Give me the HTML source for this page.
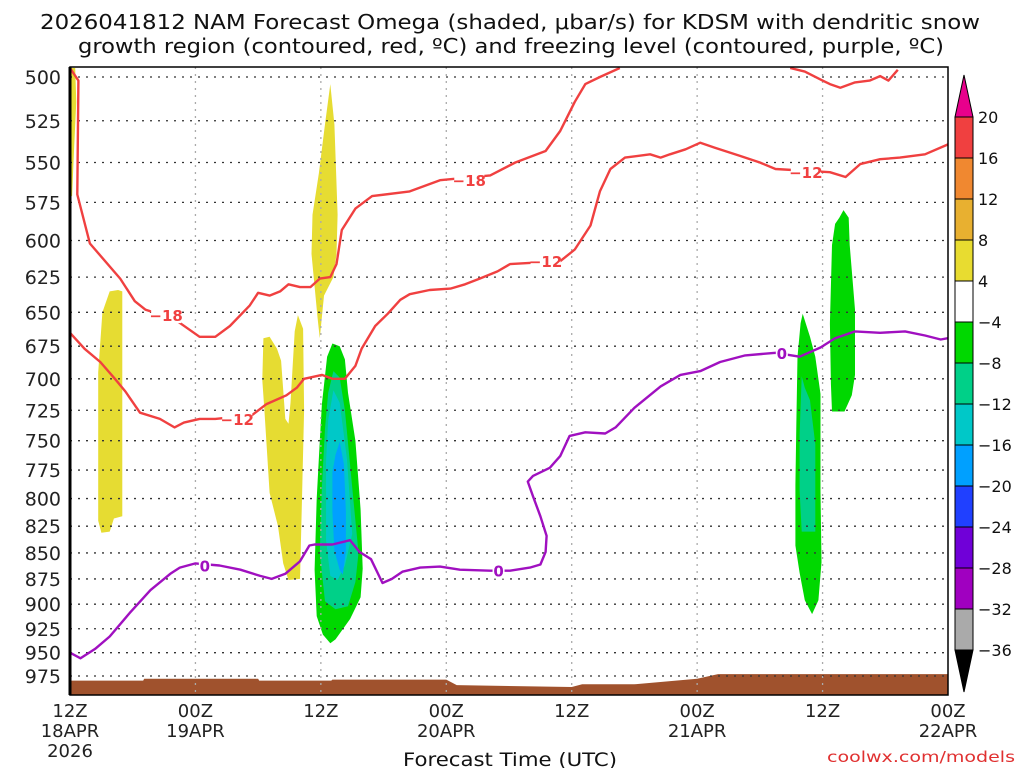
<!DOCTYPE html>
<html><head><meta charset="utf-8">
<style>
body{margin:0;background:#fff;}
svg text{font-family:"DejaVu Sans","Liberation Sans",sans-serif;}
</style></head>
<body>
<svg id="chart" width="1024" height="768" xmlns="http://www.w3.org/2000/svg">
<rect width="1024" height="768" fill="#fff"/>
<text x="40" y="29" textLength="940" lengthAdjust="spacingAndGlyphs" font-size="20" fill="#111">2026041812 NAM Forecast Omega (shaded, μbar/s) for KDSM with dendritic snow</text>
<text x="78" y="53" textLength="866" lengthAdjust="spacingAndGlyphs" font-size="20" fill="#111">growth region (contoured, red, ºC) and freezing level (contoured, purple, ºC)</text>
<g id="shade"></g><g id="terrain"></g><g id="grid"></g><g id="contours"></g><g id="axes"></g><g id="cbar"></g>
<text x="403" y="766" textLength="214" lengthAdjust="spacingAndGlyphs" font-size="19" fill="#111">Forecast Time (UTC)</text>
<text x="827" y="762" textLength="188" lengthAdjust="spacingAndGlyphs" font-size="15" fill="#e03030">coolwx.com/models</text>
</svg>
<script>
const pressTicks=[500,525,550,575,600,625,650,675,700,725,750,775,800,825,850,875,900,925,950,975];
const timeTicks=[0,12,24,36,48,60,72,84];
const timeLabels=[["12Z","18APR","2026"],["00Z","19APR"],["12Z"],["00Z","20APR"],["12Z"],["00Z","21APR"],["12Z"],["00Z","22APR"]];
const cbarLevels=[20,16,12,8,4,-4,-8,-12,-16,-20,-24,-28,-32,-36];
const cbarColors=["#f04040","#f08830","#e8b030","#e8dc30","#ffffff","#00d800","#00d088","#00c8c8","#00a0ff","#2040ff","#7000d8","#a000c0","#aaaaaa"];
const c18aH=[0,0.8,0.7,1.9,4.8,6.2,7.2,10,12.4,13.9,15.3,17.2,18,19.1,20.1,20.9,22,23,23.9,24.9,25.5,26,27.3,28.9,32.5,35.4,40.2,42.6,45.5,46.9,48.3,49.3,50.7,52.6];
const c18aP=[495,502,570,602,626,642,648,655,668,668,660,645,636,638,635,630,632,632,626,625,616,593,579,571,568,561,558,550,543,531,514,504,500,495];
const c18bH=[68.9,70.3,72,72.7,73.7,75.1,76.5,77.5,78.3,79.2];
const c18bP=[495,497,502,504,506,503,502,499.5,502,496];
const c12H=[0,1.4,2.9,4.3,5.3,6.7,8.6,10,10.9,12.4,13.9,17.4,18.8,20.7,21.7,22.4,24.1,25.1,26.3,27.3,27.9,29.2,30.4,31.6,32.5,34.4,36.4,37.8,39.2,40.9,42.1,46.9,48.3,49.8,50.7,51.7,53.1,55.5,56.5,57.4,58.9,60.3,61.7,64.1,66,67.5,72.7,74.2,75.6,77.5,79.4,81.8,84];
const c12P=[665,677,687,700,710,727,732,739,735,732,732,729,720,713,707,700,697,700,700,690,677,660,651,641,637,634,633,630,626,621,616,614,606,590,568,554,547,545,547,545,542,538,541,546,550,554,556,559,551,548,547,545,539];
const c0H=[0,1,2.4,3.8,5.7,7.7,9.6,10.5,12,14.3,16.3,18.2,19.3,20.6,22,22.9,23.4,25.1,26.8,27.7,28.8,29.9,30.8,31.8,33.5,35.4,37.3,40.2,42.1,44,45,45.5,45.6,45,44.3,43.8,44.3,45.9,46.9,47.8,49.3,51.2,52.2,54,56.5,58.4,60.3,62.2,64.6,67.5,69.8,71.8,73.2,75.1,77.5,79.9,81.8,83.3,84];
const c0P=[950,956,946,933,909,886,870,864,860,862,866,872,875,870,858,843,842,842,838,849,856,879,875,868,864,863,866,867,867,864,861,849,834,816,798,785,780,773,763,746,743,744,739,723,706,697,694,687,682,680,683,676,669,664,665,664,667,670,669];
const sfcH=[0,7,7.1,18,18.1,25,25.1,36,37,48,49,54,60,62,84];
const sfcP=[980,980,978,978,980,980,979,979,985,987,984,984,978,973,973];
const shades=[
 ["yellow",[0,0.5,0.6,0.4,0.2,0],[495,495,514,540,571,571]],
 ["yellow",[3.8,4.6,5,5,4.2,3.8,3,2.7,2.7,3.1],[635,634,635,816,818,830,831,820,695,650]],
 ["yellow",[24.9,25.3,25.6,25.5,25.2,24.3,23.9,23.7,23.1,23.2,23.8,24.4],[504,527,583,609,625,638,669,655,609,583,557,527]],
 ["yellow",[18.5,19.1,19.8,20.2,20.6,20.9,21.1,21.5,21.8,22.3,22.4,22.2,22,20.9,20.4,19.9,19.1,18.6,18.4],[669,668,677,686,732,736,719,664,652,662,725,800,875,876,860,825,795,725,701]],
 ["g4",[25.1,25.8,26.3,26.6,27.3,27.8,28,27.8,26.8,25.4,24.9,24.2,23.6,23.4,23.6,23.9,24.1,24.6],[673,675,685,711,750,810,865,893,915,936,940,931,912,866,800,750,720,683]],
 ["g8",[25.2,25.8,26.3,27,27.6,27.3,26.6,25.4,24.4,23.9,24.1,24.4,24.7],[694,699,725,790,850,878,902,905,897,850,790,740,711]],
 ["g12",[25.2,25.8,26.5,27,26.3,25.6,24.9,24.5,24.5,24.7],[709,719,766,832,862,876,872,838,767,733]],
 ["g16",[25.8,26.2,26.4,26.4,26.1,25.8,25.3,25.1,25.1,25.4],[751,770,812,848,871,866,848,812,777,762]],
 ["g4",[70.1,70.8,71.3,71.8,71.8,71.9,71.6,71,70.3,69.8,69.4,69.4,69.5,69.6,69.9],[651,668,683,712,793,859,896,910,896,869,843,788,733,683,658]],
 ["g8",[70,70.3,70.8,71.3,71.3,70.8,70,69.8,69.8],[698,707,717,753,830,830,830,793,745]],
 ["g4",[74,74.5,74.6,75.1,75.1,74.8,74.1,72.9,72.8,72.7,72.9,73.2,73.6],[580,585,603,648,697,713,726,726,704,658,603,589,585]]
];
const shadeColor={yellow:"#e6dc32",g4:"#00d800",g8:"#00d088",g12:"#00c8c8",g16:"#00a0ff"};
const X0=70,X1=948,Y0=77,Y1=676,PT=67,PB=695;
const xs=h=>X0+h*(X1-X0)/84;
const ys=p=>Y0+Math.log(p/500)/Math.log(975/500)*(Y1-Y0);
const NS="http://www.w3.org/2000/svg";
function mk(tag,attrs,parent){const e=document.createElementNS(NS,tag);for(const k in attrs)e.setAttribute(k,attrs[k]);parent.appendChild(e);return e;}
function pts(H,P){return H.map((h,i)=>xs(h).toFixed(1)+","+Math.max(PT,ys(P[i])).toFixed(1)).join(" ");}
const g=id=>document.getElementById(id);
const defs=mk("defs",{},g("chart"));const cp=mk("clipPath",{id:"plotclip"},defs);mk("rect",{x:X0,y:PT,width:X1-X0,height:PB-PT},cp);
["shade","terrain","contours"].forEach(i=>g(i).setAttribute("clip-path","url(#plotclip)"));
shades.forEach((s,i)=>{const e=mk("polygon",{points:pts(s[1],s[2]),fill:shadeColor[s[0]]},g("shade"));

});
{const H=[0,...sfcH,84],P=[1100,...sfcP,1100];const e=mk("polygon",{points:H.map((h,i)=>xs(h)+","+Math.min(PB,ys(P[i]))).join(" "),fill:"#a0522d"},g("terrain"));

}
pressTicks.forEach(p=>{const l=mk("line",{x1:X0,x2:X1,y1:ys(p),y2:ys(p),stroke:"#333","stroke-width":1.3,"stroke-dasharray":"2 6"},g("grid"));


const t=mk("text",{x:61,y:ys(p)+7,"text-anchor":"end","font-size":19,fill:"#222"},g("axes"));t.textContent=p;

});
timeTicks.forEach((h,i)=>{if(i>0&&i<timeTicks.length-1){const l=mk("line",{x1:xs(h),x2:xs(h),y1:PT,y2:PB,stroke:"#aaa","stroke-width":1.3,"stroke-dasharray":"2 5"},g("grid"));

}
timeLabels[i].forEach((s,j)=>{const t=mk("text",{x:xs(h),y:717+j*20,"text-anchor":"middle","font-size":18,fill:"#222"},g("axes"));t.textContent=s;

});});
function line(H,P,col,name){const e=mk("polyline",{points:pts(H,P),fill:"none",stroke:col,"stroke-width":2.4,"stroke-linejoin":"round"},g("contours"));

}
line(c18aH,c18aP,"#f04040","contour-minus18");line(c18bH,c18bP,"#f04040","contour-minus18-upper");
line(c12H,c12P,"#f04040","contour-minus12");line(c0H,c0P,"#a010c0","freezing-level-0");
function lab(h,p,s,col){mk("rect",{x:xs(h)-15,y:ys(p)-8,width:30,height:16,fill:"#fff"},g("contours"));
const t=mk("text",{x:xs(h),y:ys(p)+6,"text-anchor":"middle","font-size":15,"font-weight":"bold",fill:col},g("contours"));t.textContent=s;

}
lab(9.2,652,"−18","#f04040");lab(38.2,561,"−18","#f04040");lab(16,732,"−12","#f04040");lab(45.5,614,"−12","#f04040");lab(70.4,556,"−12","#f04040");
function lab0(h,p){mk("rect",{x:xs(h)-6,y:ys(p)-8,width:12,height:16,fill:"#fff"},g("contours"));const t=mk("text",{x:xs(h),y:ys(p)+6,"text-anchor":"middle","font-size":15,"font-weight":"bold",fill:"#a010c0"},g("contours"));t.textContent="0";

}
lab0(12.9,862);lab0(41,867);lab0(68.1,680);
mk("rect",{x:X0,y:PT,width:X1-X0,height:PB-PT,fill:"none",stroke:"#000","stroke-width":1.5},g("axes"));
mk("line",{x1:X0,x2:X0,y1:PT,y2:PB,stroke:"#000","stroke-width":3},g("axes"));
const CX=955,CW=18,CT=117,CB=650,step=(CB-CT)/(cbarLevels.length-1);
mk("polygon",{points:`${CX},${CT} ${CX+CW},${CT} ${CX+CW/2},${CT-42}`,fill:"#e8008c",stroke:"#000"},g("cbar"));
mk("polygon",{points:`${CX},${CB} ${CX+CW},${CB} ${CX+CW/2},${CB+42}`,fill:"#000",stroke:"#000"},g("cbar"));
cbarColors.forEach((c,i)=>{const r=mk("rect",{x:CX,y:CT+i*step,width:CW,height:step,fill:c,stroke:"#000","stroke-width":1},g("cbar"));

});
cbarLevels.forEach((v,i)=>{const t=mk("text",{x:CX+CW+5,y:CT+i*step+6,"font-size":16,fill:"#111"},g("cbar"));t.textContent=v<0?"−"+(-v):v;

});
</script>
</body></html>
